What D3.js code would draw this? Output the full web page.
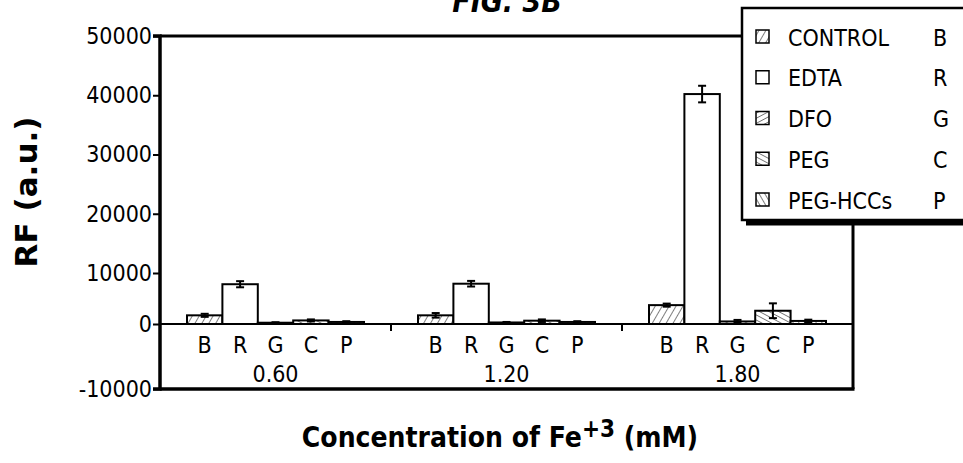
<!DOCTYPE html>
<html><head><meta charset="utf-8">
<script src="https://cdn.jsdelivr.net/npm/d3@7/dist/d3.min.js"></script>
<style>
html,body{margin:0;padding:0;background:#fff;}
svg{display:block;font-family:"DejaVu Sans Condensed","DejaVu Sans",sans-serif;}
</style></head>
<body>
<svg id="chart" width="963" height="463"></svg>
<script>
const groups = ["0.60", "1.20", "1.80"];
const seriesNames = ["CONTROL", "EDTA", "DFO", "PEG", "PEG-HCCs"];
const seriesCodes = ["B", "R", "G", "C", "P"];
const controlVals = [1700, 1700, 3700];
const edtaVals = [7800, 7900, 40200];
const dfoVals = [250, 300, 500];
const pegVals = [700, 650, 2600];
const peghccVals = [400, 400, 600];
const controlErr = [300, 450, 300];
const edtaErr = [600, 550, 1400];
const dfoErr = [100, 100, 300];
const pegErr = [200, 250, 1450];
const peghccErr = [150, 150, 250];
const yTicks = [-10000, 0, 10000, 20000, 30000, 40000, 50000];

const values = [controlVals, edtaVals, dfoVals, pegVals, peghccVals];
const errors = [controlErr, edtaErr, dfoErr, pegErr, peghccErr];

const svg = d3.select("#chart");
const pL = 160, pR = 853, pT = 36, pB = 389;

// defs: hatch patterns
const defs = svg.append("defs");
function hatch(id, angle, spacing) {
  const p = defs.append("pattern").attr("id", id).attr("patternUnits", "userSpaceOnUse")
    .attr("width", spacing).attr("height", spacing)
    .attr("patternTransform", `rotate(${angle})`);
  p.append("rect").attr("width", spacing).attr("height", spacing).attr("fill", "#fff");
  p.append("line").attr("x1", 0).attr("y1", 0).attr("x2", 0).attr("y2", spacing)
    .attr("stroke", "#000").attr("stroke-width", 1);
}
hatch("patB", 30, 6);
hatch("patG", 62, 4.5);
hatch("patC", -62, 4.5);
hatch("patP", -30, 5);
const fills = ["url(#patB)", "#fff", "url(#patG)", "url(#patC)", "url(#patP)"];

// scales (original chart has uneven tick spacing)
const y = d3.scaleLinear().domain([-10000, 0, 10000, 50000]).range([pB, 324, 273, pT]);
const x0 = d3.scaleBand().domain(groups).range([pL, pR]);
const x1 = d3.scaleBand().domain(seriesCodes).range([27, x0.bandwidth() - 27]);

// title (partly cut off, as in the reference)
svg.append("text").attr("x", 507).attr("y", 12).attr("text-anchor", "middle")
  .attr("font-weight", "bold").attr("font-style", "italic").attr("font-size", 30)
  .text("FIG. 3B");

// bars
const g = svg.append("g");
groups.forEach((grp, gi) => {
  seriesCodes.forEach((code, si) => {
    const v = values[si][gi], e = errors[si][gi];
    const bx = x0(grp) + x1(code), bw = x1.bandwidth();
    g.append("rect").attr("x", bx).attr("y", y(v)).attr("width", bw)
      .attr("height", y(0) - y(v)).attr("fill", fills[si])
      .attr("stroke", "#000").attr("stroke-width", 2);
    const cx = bx + bw / 2;
    g.append("line").attr("x1", cx).attr("x2", cx).attr("y1", y(v - e)).attr("y2", y(v + e))
      .attr("stroke", "#000").attr("stroke-width", 2);
    [v - e, v + e].forEach(t => g.append("line").attr("x1", cx - 4).attr("x2", cx + 4)
      .attr("y1", y(t)).attr("y2", y(t)).attr("stroke", "#000").attr("stroke-width", 2));
    svg.append("text").attr("x", cx).attr("y", 353).attr("text-anchor", "middle")
      .attr("font-size", 23).text(code);
  });
  svg.append("text").attr("x", x0(grp) + x0.bandwidth() / 2).attr("y", 382)
    .attr("text-anchor", "middle").attr("font-size", 23).text(grp);
});

// zero line and group separators
svg.append("line").attr("x1", pL).attr("x2", pR).attr("y1", y(0)).attr("y2", y(0))
  .attr("stroke", "#000").attr("stroke-width", 2);
groups.slice(1).forEach(grp => svg.append("line").attr("x1", x0(grp)).attr("x2", x0(grp))
  .attr("y1", y(0)).attr("y2", y(0) + 7).attr("stroke", "#000").attr("stroke-width", 2));

// frame
svg.append("line").attr("x1", pL).attr("x2", 742).attr("y1", pT).attr("y2", pT)
  .attr("stroke", "#000").attr("stroke-width", 3);
svg.append("line").attr("x1", pL).attr("x2", pR + 1.5).attr("y1", pB).attr("y2", pB)
  .attr("stroke", "#000").attr("stroke-width", 3.5);
svg.append("line").attr("x1", pR).attr("x2", pR).attr("y1", 222).attr("y2", pB)
  .attr("stroke", "#000").attr("stroke-width", 3);

// y axis
const yAxis = d3.axisLeft(y).tickValues(yTicks).tickSize(7).tickPadding(1).tickFormat(d => String(d));
const ya = svg.append("g").attr("transform", `translate(${pL},0)`).call(yAxis);
ya.select(".domain").attr("stroke-width", 3.5).attr("d", `M-7,${pT}H0V${pB}H-7`);
ya.selectAll(".tick line").attr("stroke-width", 2);
ya.selectAll(".tick text").attr("font-size", 23).attr("font-family", "DejaVu Sans Condensed").attr("fill", "#000");

// axis titles
svg.append("text").attr("transform", "translate(37,192) rotate(-90)").attr("text-anchor", "middle")
  .attr("font-weight", "bold").attr("font-size", 30)
  .attr("textLength", 151).attr("lengthAdjust", "spacingAndGlyphs").text("RF (a.u.)");
const xt = svg.append("text").attr("x", 500).attr("y", 447).attr("text-anchor", "middle")
  .attr("font-weight", "bold").attr("font-size", 28);
xt.append("tspan").text("Concentration of Fe");
xt.append("tspan").attr("dy", -10).attr("font-size", 24).text("+3");
xt.append("tspan").attr("dy", 10).text(" (mM)");

// legend
const lg = svg.append("g");
lg.append("rect").attr("x", 742).attr("y", 8).attr("width", 300).attr("height", 212)
  .attr("fill", "#fff").attr("stroke", "#000").attr("stroke-width", 2.5);
lg.append("line").attr("x1", 746).attr("x2", 963).attr("y1", 223).attr("y2", 223)
  .attr("stroke", "#000").attr("stroke-width", 5);
const ly = d3.scalePoint().domain(seriesNames).range([37, 200]);
seriesNames.forEach((name, i) => {
  const cy = ly(name);
  lg.append("rect").attr("x", 756).attr("y", cy - 7).attr("width", 13).attr("height", 13)
    .attr("fill", fills[i]).attr("stroke", "#000").attr("stroke-width", 1.5);
  lg.append("text").attr("x", 788).attr("y", cy + 8.5).attr("font-size", 23).text(name);
  lg.append("text").attr("x", 933).attr("y", cy + 8.5).attr("font-size", 23).text(seriesCodes[i]);
});
</script>
</body></html>
